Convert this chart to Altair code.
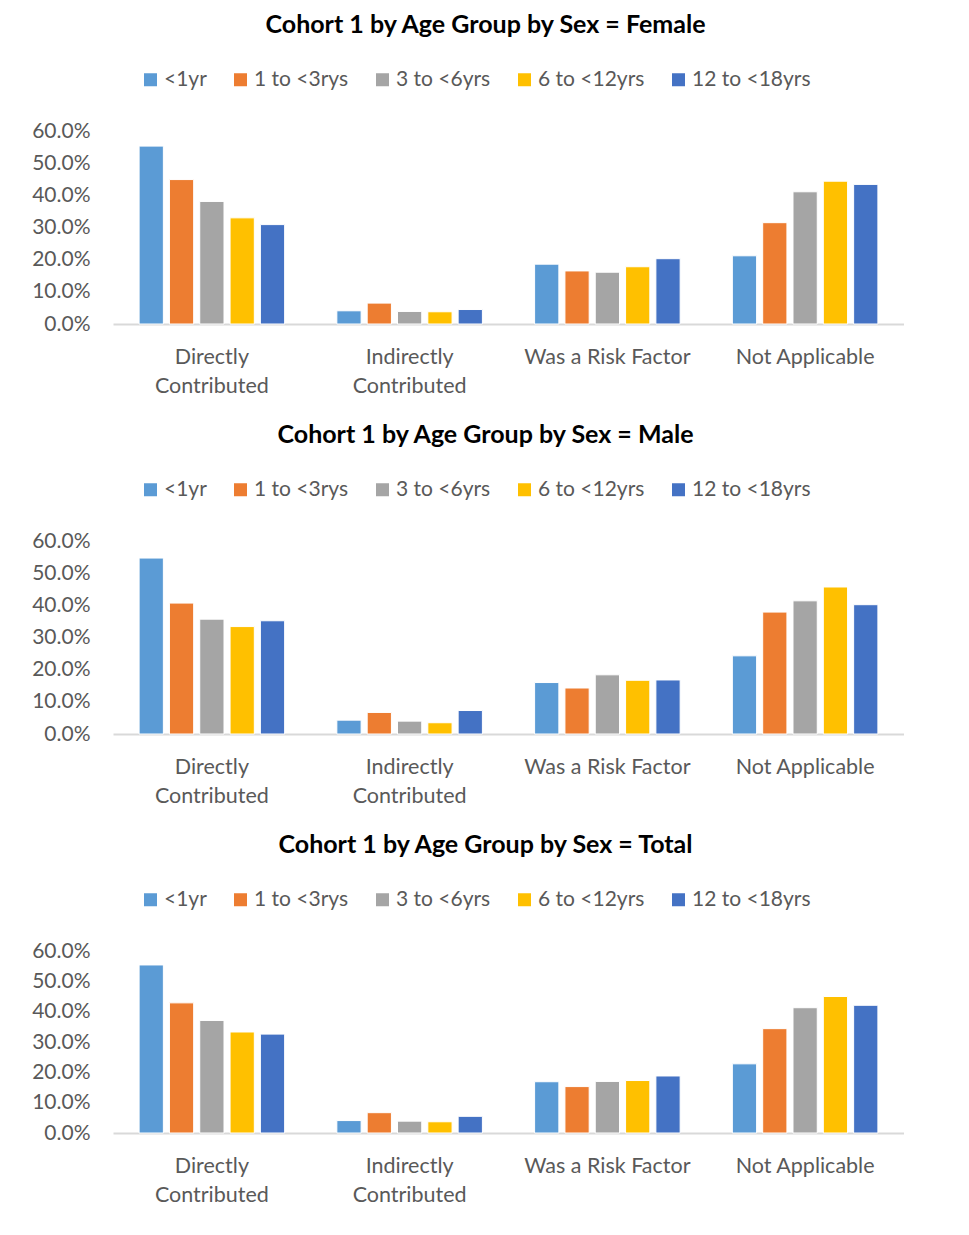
import altair as alt
import pandas as pd

categories = ["Directly Contributed", "Indirectly Contributed", "Was a Risk Factor", "Not Applicable"]
age_groups = ["<1yr", "1 to <3rys", "3 to <6yrs", "6 to <12yrs", "12 to <18yrs"]
colors = ["#5B9BD5", "#ED7D31", "#A5A5A5", "#FFC000", "#4472C4"]
y_ticks = [0.0, 0.1, 0.2, 0.3, 0.4, 0.5, 0.6]

# values per category, each list ordered by age group
female_directly = [0.553, 0.449, 0.381, 0.330, 0.309]
female_indirectly = [0.041, 0.065, 0.039, 0.038, 0.045]
female_risk = [0.186, 0.165, 0.161, 0.178, 0.203]
female_na = [0.212, 0.315, 0.411, 0.444, 0.434]

male_directly = [0.547, 0.407, 0.357, 0.334, 0.352]
male_indirectly = [0.043, 0.067, 0.040, 0.035, 0.073]
male_risk = [0.160, 0.143, 0.184, 0.167, 0.168]
male_na = [0.243, 0.379, 0.414, 0.457, 0.402]

total_directly = [0.554, 0.429, 0.371, 0.333, 0.326]
total_indirectly = [0.041, 0.067, 0.039, 0.037, 0.055]
total_risk = [0.169, 0.153, 0.170, 0.173, 0.188]
total_na = [0.228, 0.344, 0.413, 0.450, 0.421]

FONT = "Lato"
GREY = "#595959"


def panel(sex, series, height, title_offset):
    rows = []
    for cat, vals in zip(categories, series):
        for ag, v in zip(age_groups, vals):
            rows.append({"category": cat, "age": ag, "value": v})
    df = pd.DataFrame(rows)
    title = alt.TitleParams(
        text=f"Cohort 1 by Age Group by Sex = {sex}",
        font=FONT, fontSize=25, fontWeight="bold", color="#000000",
        anchor="middle", dx=-23, offset=title_offset,
    )
    return alt.Chart(df, title=title).mark_bar(stroke="white", strokeWidth=1).encode(
        x=alt.X(
            "category:N", sort=categories,
            scale=alt.Scale(paddingInner=0.264, paddingOuter=0.132),
            axis=alt.Axis(
                title=None, labelAngle=0, labelFont=FONT, labelFontSize=21.5,
                labelColor=GREY, labelLineHeight=29, labelPadding=22,
                labelLimit=400, ticks=False, tickSize=0,
                domainColor="#D9D9D9", domainWidth=2,
                labelExpr="indexof(datum.label, 'Contributed') > 0 ? split(datum.label, ' ') : datum.label",
            ),
        ),
        xOffset=alt.XOffset(
            "age:N", sort=age_groups,
            scale=alt.Scale(paddingInner=0.2, paddingOuter=0),
        ),
        y=alt.Y(
            "value:Q",
            scale=alt.Scale(domain=[0, 0.6], nice=False),
            axis=alt.Axis(
                title=None, values=y_ticks, format=".1%", labelFont=FONT,
                labelFontSize=21, labelColor=GREY, labelPadding=23,
                domain=False, ticks=False, tickSize=0, grid=False,
                minExtent=105, maxExtent=105,
            ),
        ),
        color=alt.Color(
            "age:N", sort=age_groups,
            scale=alt.Scale(domain=age_groups, range=colors),
            legend=alt.Legend(
                title=None, orient="none", legendX=27, legendY=-62,
                direction="horizontal", columns=5, symbolType="square",
                symbolSize=169, symbolStrokeWidth=0, labelFont=FONT,
                labelFontSize=21, labelColor=GREY, labelOffset=3,
                columnPadding=23, padding=0,
            ),
        ),
    ).properties(width=791, height=height)


female = panel("Female", [female_directly, female_indirectly, female_risk, female_na], 193, 31)
male = panel("Male", [male_directly, male_indirectly, male_risk, male_na], 193, 31)
total = panel("Total", [total_directly, total_indirectly, total_risk, total_na], 182, 31)

chart = alt.vconcat(female, male, total, spacing=26).properties(
    padding={"left": 0, "top": 5, "right": 0, "bottom": 0},
    background="white",
).configure_view(stroke=None).resolve_scale(color="independent")

chart.save("out.html", embed_options={"renderer": "svg", "actions": False})
